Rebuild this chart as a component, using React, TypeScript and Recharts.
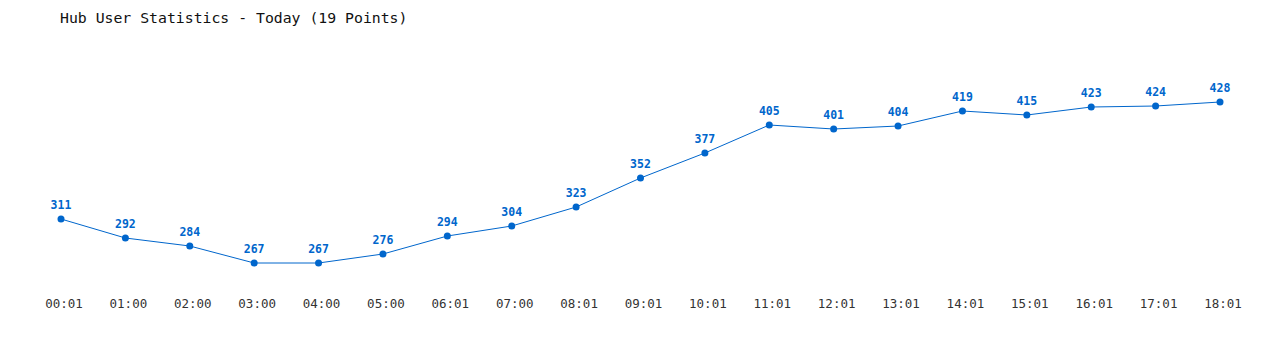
import React from 'react';
import { LineChart, Line, XAxis, YAxis, LabelList } from 'recharts';

const times = ['00:01', '01:00', '02:00', '03:00', '04:00', '05:00', '06:01', '07:00', '08:01', '09:01',
  '10:01', '11:01', '12:01', '13:01', '14:01', '15:01', '16:01', '17:01', '18:01'];
const users = [311, 292, 284, 267, 267, 276, 294, 304, 323, 352, 377, 405, 401, 404, 419, 415, 423, 424, 428];

const data = times.map((t, i) => ({ time: t, users: users[i] }));

const mono = '"DejaVu Sans Mono", "Liberation Mono", monospace';
const blue = '#0066cc';

const App = () => {
  return (
    <div style={{ position: 'absolute', left: 0, top: 0, width: 1280, height: 350, background: '#fff' }}>
      <div style={{ position: 'absolute', left: 60, top: 9, fontFamily: mono, fontSize: 14.8, color: '#111', whiteSpace: 'pre' }}>
        Hub User Statistics - Today (19 Points)
      </div>
      <LineChart width={1280} height={350} data={data} margin={{ top: 40, right: 60, bottom: 30, left: 61 }}>
        <YAxis hide domain={[240, 490]} />
        <XAxis
          dataKey="time"
          axisLine={false}
          tickLine={false}
          interval={0}
          tick={{ fill: '#333', fontSize: 12.5, fontFamily: mono, dx: 3 }}
          tickMargin={3}
        />
        <Line
          type="linear"
          dataKey="users"
          stroke={blue}
          strokeWidth={1}
          dot={{ r: 3.5, fill: blue, stroke: blue, strokeWidth: 0 }}
          isAnimationActive={false}
        >
          <LabelList dataKey="users" position="top" offset={10} fill={blue} fontSize={11.5} fontWeight="bold" fontFamily={mono} />
        </Line>
      </LineChart>
    </div>
  );
};

export default App;
